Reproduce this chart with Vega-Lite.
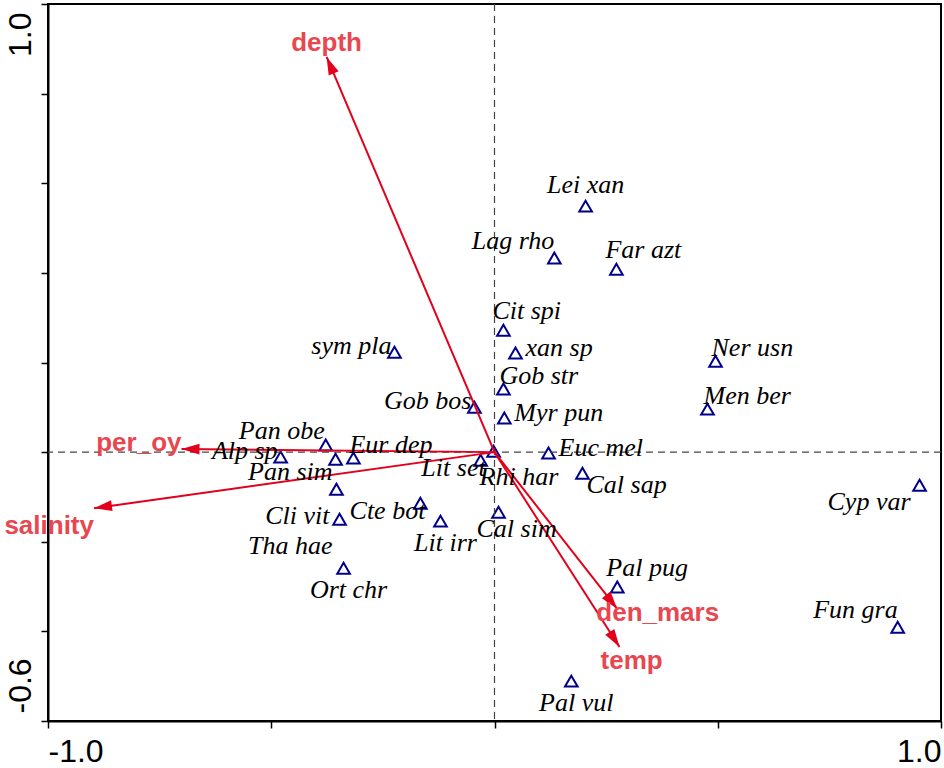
{
  "$schema": "https://vega.github.io/schema/vega-lite/v6.json",
  "width": 893,
  "height": 717,
  "autosize": {"type": "none"},
  "padding": {"left": 48, "top": 4, "right": 3, "bottom": 47},
  "background": "white",
  "config": {"view": {"stroke": "#000", "strokeWidth": 2}},
  "datasets": {
    "species": [
      {"name": "Lei xan", "x": 0.204, "y": 0.549},
      {"name": "Lag rho", "x": 0.134, "y": 0.433},
      {"name": "Far azt", "x": 0.273, "y": 0.408},
      {"name": "Cit spi", "x": 0.020, "y": 0.272},
      {"name": "xan sp", "x": 0.047, "y": 0.221},
      {"name": "sym pla", "x": -0.224, "y": 0.223},
      {"name": "Gob str", "x": 0.020, "y": 0.141},
      {"name": "Gob bos", "x": -0.045, "y": 0.100},
      {"name": "Myr pun", "x": 0.022, "y": 0.076},
      {"name": "Ner usn", "x": 0.495, "y": 0.203},
      {"name": "Men ber", "x": 0.477, "y": 0.096},
      {"name": "Euc mel", "x": 0.121, "y": -0.002},
      {"name": "Cal sap", "x": 0.197, "y": -0.047},
      {"name": "Cyp var", "x": 0.952, "y": -0.074},
      {"name": "Pan obe", "x": -0.378, "y": 0.016},
      {"name": "Alp sp", "x": -0.479, "y": -0.011},
      {"name": "Eur dep", "x": -0.316, "y": -0.013},
      {"name": "Pan sim", "x": -0.356, "y": -0.016},
      {"name": "Lit set", "x": -0.031, "y": -0.018},
      {"name": "Rhi har", "x": -0.002, "y": 0.002},
      {"name": "Cli vit", "x": -0.354, "y": -0.083},
      {"name": "Cte bot", "x": -0.166, "y": -0.114},
      {"name": "Tha hae", "x": -0.347, "y": -0.150},
      {"name": "Lit irr", "x": -0.121, "y": -0.154},
      {"name": "Cal sim", "x": 0.009, "y": -0.134},
      {"name": "Ort chr", "x": -0.338, "y": -0.259},
      {"name": "Pal pug", "x": 0.275, "y": -0.301},
      {"name": "Fun gra", "x": 0.903, "y": -0.391},
      {"name": "Pal vul", "x": 0.172, "y": -0.511}
    ],
    "env": [
      {"name": "depth", "x": -0.376, "y": 0.882},
      {"name": "per_oy", "x": -0.701, "y": 0.007},
      {"name": "salinity", "x": -0.897, "y": -0.125},
      {"name": "den_mars", "x": 0.275, "y": -0.350},
      {"name": "temp", "x": 0.280, "y": -0.435}
    ]
  },
  "layer": [
    {
      "data": {"name": "species"},
      "mark": {"type": "point", "shape": "triangle-up", "size": 160, "strokeWidth": 2, "color": "#00008b", "filled": false, "opacity": 1},
      "encoding": {
        "x": {
          "field": "x", "type": "quantitative", "title": null,
          "scale": {"domain": [-1, 1], "nice": false, "zero": false},
          "axis": {
            "title": null, "grid": false,
            "values": [-1, -0.5, 0, 0.5, 1],
            "labelExpr": "datum.value < -0.99 ? '-1.0' : (datum.value > 0.99 ? '1.0' : '')",
            "domainColor": "#000", "domainWidth": 2,
            "tickColor": "#000", "tickWidth": 1.5, "tickSize": 7,
            "labelFont": "Liberation Sans", "labelFontSize": 32, "labelColor": "#000",
            "labelPadding": 8, "labelFlush": true
          }
        },
        "y": {
          "field": "y", "type": "quantitative", "title": null,
          "scale": {"domain": [-0.6, 1.0], "nice": false, "zero": false},
          "axis": {
            "title": null, "grid": false,
            "values": [-0.6, -0.4, -0.2, 0, 0.2, 0.4, 0.6, 0.8, 1.0],
            "labelExpr": "datum.value > 0.99 ? '1.0' : (datum.value < -0.59 ? '-0.6' : '')",
            "domainColor": "#000", "domainWidth": 2,
            "tickColor": "#000", "tickWidth": 1.5, "tickSize": 7,
            "labelFont": "Liberation Sans", "labelFontSize": 32, "labelColor": "#000",
            "labelAngle": -90, "labelFlush": false, "labelPadding": 11,
            "labelBaseline": "alphabetic",
            "labelAlign": {"condition": {"test": "datum.value > 0", "value": "right"}, "value": "left"},
            "labelOffset": {"condition": {"test": "datum.value > 0", "value": 8}, "value": -8}
          }
        }
      }
    },
    {
      "data": {"values": [{}]},
      "mark": {"type": "rule", "color": "#444", "strokeWidth": 1.2, "strokeDash": [7, 5]},
      "encoding": {"x": {"datum": 0, "type": "quantitative", "title": null}}
    },
    {
      "data": {"values": [{}]},
      "mark": {"type": "rule", "color": "#444", "strokeWidth": 1.2, "strokeDash": [7, 5]},
      "encoding": {"y": {"datum": 0, "type": "quantitative", "title": null}}
    },
    {
      "data": {"name": "env"},
      "mark": {"type": "rule", "color": "#e3001b", "strokeWidth": 2},
      "encoding": {
        "x": {"field": "x", "type": "quantitative", "title": null},
        "y": {"field": "y", "type": "quantitative", "title": null},
        "x2": {"datum": 0},
        "y2": {"datum": 0}
      }
    },
    {
      "data": {"name": "env"},
      "transform": [{"calculate": "atan2(datum.x, datum.y) * 180 / PI", "as": "ang"}],
      "mark": {"type": "point", "shape": "M0,0L-0.3,1L0.3,1Z", "size": 1296, "filled": true, "color": "#e3001b", "strokeWidth": 0, "opacity": 1},
      "encoding": {
        "x": {"field": "x", "type": "quantitative", "title": null},
        "y": {"field": "y", "type": "quantitative", "title": null},
        "angle": {"field": "ang", "type": "quantitative", "scale": null}
      }
    },
    {
      "data": {"name": "species"},
      "transform": [{"filter": {"field": "name", "oneOf": ["Lei xan"]}}],
      "mark": {"type": "text", "align": "center", "baseline": "middle", "dx": 0, "dy": -21, "font": "Liberation Serif", "fontStyle": "italic", "fontSize": 26, "color": "#000"},
      "encoding": {"x": {"field": "x", "type": "quantitative", "title": null}, "y": {"field": "y", "type": "quantitative", "title": null}, "text": {"field": "name"}}
    },
    {
      "data": {"name": "species"},
      "transform": [{"filter": {"field": "name", "oneOf": ["Lit irr", "Ort chr", "Pal vul"]}}],
      "mark": {"type": "text", "align": "center", "baseline": "middle", "dx": 5, "dy": 22, "font": "Liberation Serif", "fontStyle": "italic", "fontSize": 26, "color": "#000"},
      "encoding": {"x": {"field": "x", "type": "quantitative", "title": null}, "y": {"field": "y", "type": "quantitative", "title": null}, "text": {"field": "name"}}
    },
    {
      "data": {"name": "species"},
      "transform": [{"filter": {"field": "name", "oneOf": ["Far azt", "Cit spi", "Pal pug"]}}],
      "mark": {"type": "text", "align": "left", "baseline": "middle", "dx": -11, "dy": -19, "font": "Liberation Serif", "fontStyle": "italic", "fontSize": 26, "color": "#000"},
      "encoding": {"x": {"field": "x", "type": "quantitative", "title": null}, "y": {"field": "y", "type": "quantitative", "title": null}, "text": {"field": "name"}}
    },
    {
      "data": {"name": "species"},
      "transform": [{"filter": {"field": "name", "oneOf": ["Ner usn", "Men ber", "Gob str", "Eur dep"]}}],
      "mark": {"type": "text", "align": "left", "baseline": "middle", "dx": -4, "dy": -13, "font": "Liberation Serif", "fontStyle": "italic", "fontSize": 26, "color": "#000"},
      "encoding": {"x": {"field": "x", "type": "quantitative", "title": null}, "y": {"field": "y", "type": "quantitative", "title": null}, "text": {"field": "name"}}
    },
    {
      "data": {"name": "species"},
      "transform": [{"filter": {"field": "name", "oneOf": ["xan sp", "Myr pun", "Euc mel"]}}],
      "mark": {"type": "text", "align": "left", "baseline": "middle", "dx": 10, "dy": -5, "font": "Liberation Serif", "fontStyle": "italic", "fontSize": 26, "color": "#000"},
      "encoding": {"x": {"field": "x", "type": "quantitative", "title": null}, "y": {"field": "y", "type": "quantitative", "title": null}, "text": {"field": "name"}}
    },
    {
      "data": {"name": "species"},
      "transform": [{"filter": {"field": "name", "oneOf": ["sym pla", "Gob bos", "Alp sp"]}}],
      "mark": {"type": "text", "align": "right", "baseline": "middle", "dx": -3, "dy": -6, "font": "Liberation Serif", "fontStyle": "italic", "fontSize": 26, "color": "#000"},
      "encoding": {"x": {"field": "x", "type": "quantitative", "title": null}, "y": {"field": "y", "type": "quantitative", "title": null}, "text": {"field": "name"}}
    },
    {
      "data": {"name": "species"},
      "transform": [{"filter": {"field": "name", "oneOf": ["Lag rho", "Fun gra"]}}],
      "mark": {"type": "text", "align": "right", "baseline": "middle", "dx": 0, "dy": -17, "font": "Liberation Serif", "fontStyle": "italic", "fontSize": 26, "color": "#000"},
      "encoding": {"x": {"field": "x", "type": "quantitative", "title": null}, "y": {"field": "y", "type": "quantitative", "title": null}, "text": {"field": "name"}}
    },
    {
      "data": {"name": "species"},
      "transform": [{"filter": {"field": "name", "oneOf": ["Pan obe"]}}],
      "mark": {"type": "text", "align": "right", "baseline": "middle", "dx": -1, "dy": -14, "font": "Liberation Serif", "fontStyle": "italic", "fontSize": 26, "color": "#000"},
      "encoding": {"x": {"field": "x", "type": "quantitative", "title": null}, "y": {"field": "y", "type": "quantitative", "title": null}, "text": {"field": "name"}}
    },
    {
      "data": {"name": "species"},
      "transform": [{"filter": {"field": "name", "oneOf": ["Pan sim"]}}],
      "mark": {"type": "text", "align": "right", "baseline": "middle", "dx": -3, "dy": 13, "font": "Liberation Serif", "fontStyle": "italic", "fontSize": 26, "color": "#000"},
      "encoding": {"x": {"field": "x", "type": "quantitative", "title": null}, "y": {"field": "y", "type": "quantitative", "title": null}, "text": {"field": "name"}}
    },
    {
      "data": {"name": "species"},
      "transform": [{"filter": {"field": "name", "oneOf": ["Cli vit", "Tha hae"]}}],
      "mark": {"type": "text", "align": "right", "baseline": "middle", "dx": -7, "dy": 27, "font": "Liberation Serif", "fontStyle": "italic", "fontSize": 26, "color": "#000"},
      "encoding": {"x": {"field": "x", "type": "quantitative", "title": null}, "y": {"field": "y", "type": "quantitative", "title": null}, "text": {"field": "name"}}
    },
    {
      "data": {"name": "species"},
      "transform": [{"filter": {"field": "name", "oneOf": ["Lit set", "Cte bot"]}}],
      "mark": {"type": "text", "align": "right", "baseline": "middle", "dx": 5, "dy": 8, "font": "Liberation Serif", "fontStyle": "italic", "fontSize": 26, "color": "#000"},
      "encoding": {"x": {"field": "x", "type": "quantitative", "title": null}, "y": {"field": "y", "type": "quantitative", "title": null}, "text": {"field": "name"}}
    },
    {
      "data": {"name": "species"},
      "transform": [{"filter": {"field": "name", "oneOf": ["Cyp var"]}}],
      "mark": {"type": "text", "align": "right", "baseline": "middle", "dx": -9, "dy": 17, "font": "Liberation Serif", "fontStyle": "italic", "fontSize": 26, "color": "#000"},
      "encoding": {"x": {"field": "x", "type": "quantitative", "title": null}, "y": {"field": "y", "type": "quantitative", "title": null}, "text": {"field": "name"}}
    },
    {
      "data": {"name": "species"},
      "transform": [{"filter": {"field": "name", "oneOf": ["Rhi har"]}}],
      "mark": {"type": "text", "align": "left", "baseline": "middle", "dx": -14, "dy": 26, "font": "Liberation Serif", "fontStyle": "italic", "fontSize": 26, "color": "#000"},
      "encoding": {"x": {"field": "x", "type": "quantitative", "title": null}, "y": {"field": "y", "type": "quantitative", "title": null}, "text": {"field": "name"}}
    },
    {
      "data": {"name": "species"},
      "transform": [{"filter": {"field": "name", "oneOf": ["Cal sim"]}}],
      "mark": {"type": "text", "align": "left", "baseline": "middle", "dx": -22, "dy": 17, "font": "Liberation Serif", "fontStyle": "italic", "fontSize": 26, "color": "#000"},
      "encoding": {"x": {"field": "x", "type": "quantitative", "title": null}, "y": {"field": "y", "type": "quantitative", "title": null}, "text": {"field": "name"}}
    },
    {
      "data": {"name": "species"},
      "transform": [{"filter": {"field": "name", "oneOf": ["Cal sap"]}}],
      "mark": {"type": "text", "align": "left", "baseline": "middle", "dx": 4, "dy": 12, "font": "Liberation Serif", "fontStyle": "italic", "fontSize": 26, "color": "#000"},
      "encoding": {"x": {"field": "x", "type": "quantitative", "title": null}, "y": {"field": "y", "type": "quantitative", "title": null}, "text": {"field": "name"}}
    },
    {
      "data": {"name": "env"},
      "transform": [{"filter": {"field": "name", "oneOf": ["depth"]}}],
      "mark": {"type": "text", "align": "center", "baseline": "alphabetic", "dx": 0, "dy": -6, "font": "Liberation Sans", "fontWeight": "bold", "fontSize": 26, "color": "#e8474f"},
      "encoding": {"x": {"field": "x", "type": "quantitative", "title": null}, "y": {"field": "y", "type": "quantitative", "title": null}, "text": {"field": "name"}}
    },
    {
      "data": {"name": "env"},
      "transform": [{"filter": {"field": "name", "oneOf": ["per_oy"]}}],
      "mark": {"type": "text", "align": "right", "baseline": "alphabetic", "dx": 0, "dy": 2, "font": "Liberation Sans", "fontWeight": "bold", "fontSize": 26, "color": "#e8474f"},
      "encoding": {"x": {"field": "x", "type": "quantitative", "title": null}, "y": {"field": "y", "type": "quantitative", "title": null}, "text": {"field": "name"}}
    },
    {
      "data": {"name": "env"},
      "transform": [{"filter": {"field": "name", "oneOf": ["salinity"]}}],
      "mark": {"type": "text", "align": "right", "baseline": "alphabetic", "dx": 0, "dy": 26, "font": "Liberation Sans", "fontWeight": "bold", "fontSize": 26, "color": "#e8474f"},
      "encoding": {"x": {"field": "x", "type": "quantitative", "title": null}, "y": {"field": "y", "type": "quantitative", "title": null}, "text": {"field": "name"}}
    },
    {
      "data": {"name": "env"},
      "transform": [{"filter": {"field": "name", "oneOf": ["den_mars"]}}],
      "mark": {"type": "text", "align": "left", "baseline": "alphabetic", "dx": -21, "dy": 12, "font": "Liberation Sans", "fontWeight": "bold", "fontSize": 26, "color": "#e8474f"},
      "encoding": {"x": {"field": "x", "type": "quantitative", "title": null}, "y": {"field": "y", "type": "quantitative", "title": null}, "text": {"field": "name"}}
    },
    {
      "data": {"name": "env"},
      "transform": [{"filter": {"field": "name", "oneOf": ["temp"]}}],
      "mark": {"type": "text", "align": "left", "baseline": "alphabetic", "dx": -19, "dy": 22, "font": "Liberation Sans", "fontWeight": "bold", "fontSize": 26, "color": "#e8474f"},
      "encoding": {"x": {"field": "x", "type": "quantitative", "title": null}, "y": {"field": "y", "type": "quantitative", "title": null}, "text": {"field": "name"}}
    }
  ]
}
